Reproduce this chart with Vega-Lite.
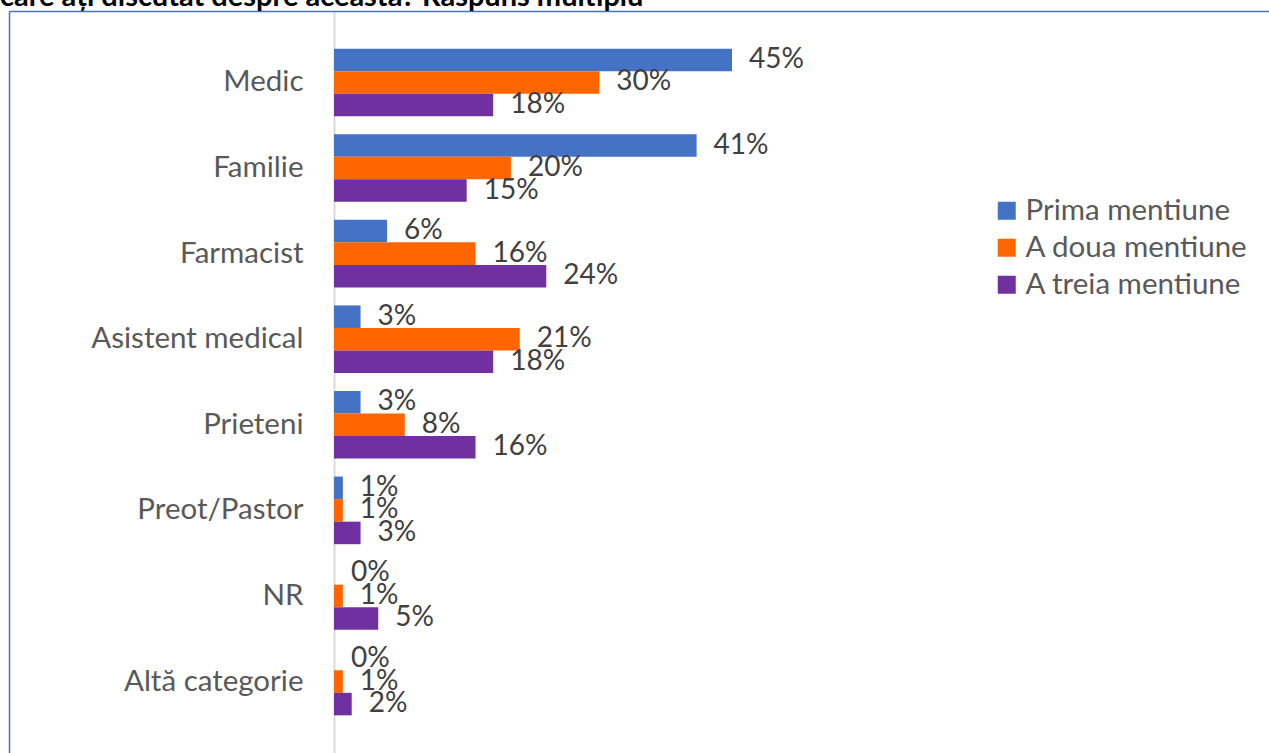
{
  "$schema": "https://vega.github.io/schema/vega-lite/v6.json",
  "autosize": "none",
  "width": 1260,
  "height": 742,
  "padding": {"left": 9, "top": 11, "right": 0, "bottom": 0},
  "background": "white",
  "config": {"view": {"stroke": null}},
  "title": {"text": "care ați discutat despre aceasta? Raspuns multiplu", "anchor": "start", "frame": "group", "dx": -9, "dy": 24, "offset": 0, "baseline": "alphabetic", "font": "Lato", "fontSize": 29, "fontWeight": "bold", "color": "#000000"},
  "data": {"values": [
    {"categorie": "Medic", "serie": "Prima mentiune", "procent": 0.45},
    {"categorie": "Medic", "serie": "A doua mentiune", "procent": 0.30},
    {"categorie": "Medic", "serie": "A treia mentiune", "procent": 0.18},
    {"categorie": "Familie", "serie": "Prima mentiune", "procent": 0.41},
    {"categorie": "Familie", "serie": "A doua mentiune", "procent": 0.20},
    {"categorie": "Familie", "serie": "A treia mentiune", "procent": 0.15},
    {"categorie": "Farmacist", "serie": "Prima mentiune", "procent": 0.06},
    {"categorie": "Farmacist", "serie": "A doua mentiune", "procent": 0.16},
    {"categorie": "Farmacist", "serie": "A treia mentiune", "procent": 0.24},
    {"categorie": "Asistent medical", "serie": "Prima mentiune", "procent": 0.03},
    {"categorie": "Asistent medical", "serie": "A doua mentiune", "procent": 0.21},
    {"categorie": "Asistent medical", "serie": "A treia mentiune", "procent": 0.18},
    {"categorie": "Prieteni", "serie": "Prima mentiune", "procent": 0.03},
    {"categorie": "Prieteni", "serie": "A doua mentiune", "procent": 0.08},
    {"categorie": "Prieteni", "serie": "A treia mentiune", "procent": 0.16},
    {"categorie": "Preot/Pastor", "serie": "Prima mentiune", "procent": 0.01},
    {"categorie": "Preot/Pastor", "serie": "A doua mentiune", "procent": 0.01},
    {"categorie": "Preot/Pastor", "serie": "A treia mentiune", "procent": 0.03},
    {"categorie": "NR", "serie": "Prima mentiune", "procent": 0.0},
    {"categorie": "NR", "serie": "A doua mentiune", "procent": 0.01},
    {"categorie": "NR", "serie": "A treia mentiune", "procent": 0.05},
    {"categorie": "Altă categorie", "serie": "Prima mentiune", "procent": 0.0},
    {"categorie": "Altă categorie", "serie": "A doua mentiune", "procent": 0.01},
    {"categorie": "Altă categorie", "serie": "A treia mentiune", "procent": 0.02}
  ]},
  "encoding": {
    "y": {
      "field": "categorie", "type": "nominal",
      "sort": ["Medic", "Familie", "Farmacist", "Asistent medical", "Prieteni", "Preot/Pastor", "NR", "Altă categorie"],
      "scale": {"paddingInner": 0.21, "paddingOuter": 0.44},
      "axis": {"title": null, "ticks": false, "labelPadding": -294, "labelAlign": "right", "labelFont": "Lato", "labelFontSize": 29.5, "labelColor": "#595959", "domainColor": "#4472C4", "domainWidth": 1.5, "grid": false, "labelLimit": 0}
    },
    "yOffset": {
      "field": "serie", "type": "nominal",
      "sort": ["Prima mentiune", "A doua mentiune", "A treia mentiune"],
      "scale": {"paddingInner": 0, "paddingOuter": 0}
    },
    "x": {
      "field": "procent", "type": "quantitative",
      "scale": {"domain": [-0.3675, 1.0572], "nice": false},
      "axis": {"orient": "top", "title": null, "labels": false, "ticks": false, "values": [0], "grid": true, "gridColor": "#d9d9d9", "gridWidth": 2, "domainColor": "#4472C4", "domainWidth": 1.5}
    }
  },
  "layer": [
    {
      "mark": {"type": "bar"},
      "encoding": {
        "color": {
          "field": "serie", "type": "nominal",
          "scale": {"domain": ["Prima mentiune", "A doua mentiune", "A treia mentiune"], "range": ["#4472C4", "#FF6600", "#7030A0"]},
          "legend": {"orient": "none", "legendX": 983, "legendY": 185, "title": null, "labelFont": "Lato", "labelFontSize": 29.5, "labelColor": "#595959", "symbolType": "square", "symbolSize": 324, "symbolStrokeWidth": 0, "rowPadding": 6, "labelOffset": 4, "labelLimit": 0}
        }
      }
    },
    {
      "mark": {"type": "text", "align": "left", "baseline": "middle", "dx": 17, "font": "Lato", "fontSize": 28, "color": "#404040"},
      "encoding": {"text": {"field": "procent", "type": "quantitative", "format": ".0%"}}
    }
  ]
}
